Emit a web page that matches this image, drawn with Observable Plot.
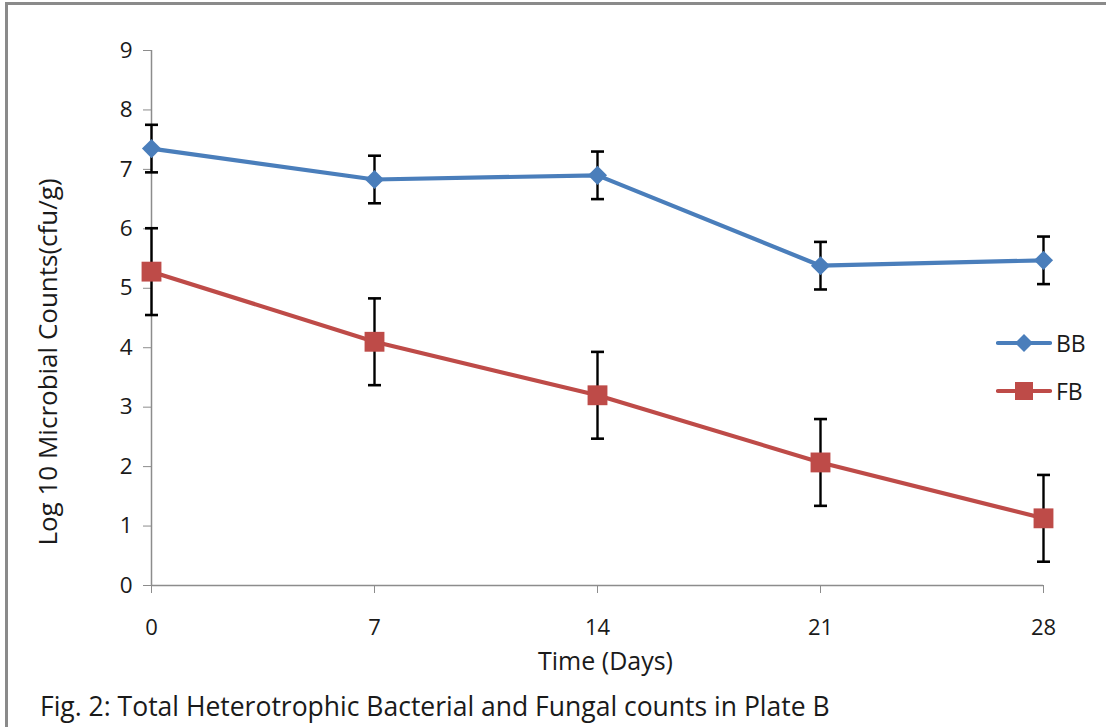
<!DOCTYPE html>
<html>
<head>
<meta charset="utf-8">
<script src="https://cdn.jsdelivr.net/npm/d3@7"></script>
<script src="https://cdn.jsdelivr.net/npm/@observablehq/plot@0.6"></script>
<style>
  html, body { margin: 0; padding: 0; background: #fff; }
  body { font-family: "Open Sans", "DejaVu Sans", sans-serif; color: #000; }
  #wrap { position: relative; width: 1106px; height: 727px; overflow: hidden; background: #fff; }
  #frame { position: absolute; left: 5px; top: 2px; width: 1101px; height: 725px;
           border-top: 3px solid #8a8a8a; border-left: 3px solid #8a8a8a; box-sizing: border-box; pointer-events: none; }
  #chart { position: absolute; left: 0; top: 0; }
  #caption { position: absolute; left: 40px; top: 689px; font-size: 26.5px; line-height: 34px; color: #1a1a1a; white-space: nowrap; }
  #legend { position: absolute; left: 996px; top: 328px; font-size: 23px; color: #1a1a1a; }
  .item { display: flex; align-items: center; height: 30px; margin-bottom: 18px; }
  .item svg { margin-right: 4px; }
</style>
</head>
<body>
<div id="wrap">
  <div id="chart"></div>
  <div id="legend"></div>
  <div id="caption">Fig. 2: Total Heterotrophic Bacterial and Fungal counts in Plate B</div>
  <div id="frame"></div>
</div>
<script>
// ---- data ----
const days = [0, 7, 14, 21, 28];
const seriesNames = ["BB", "FB"];
const bbMean = [7.35, 6.83, 6.90, 5.38, 5.47];
const bbErr  = [0.40, 0.40, 0.40, 0.40, 0.40];
const fbMean = [5.28, 4.10, 3.20, 2.07, 1.13];
const fbErr  = [0.73, 0.73, 0.73, 0.73, 0.73];
const yTicks = [0, 1, 2, 3, 4, 5, 6, 7, 8, 9];
const xTicks = [0, 7, 14, 21, 28];
const xLabel = "Time (Days)";
const yLabel = "Log 10 Microbial Counts(cfu/g)";

const colors = {BB: "#4a7ebb", FB: "#be4b48"};
const sizes = {BB: 8.6, FB: 11.2};

const rows = [];
days.forEach((d, i) => {
  rows.push({series: "BB", day: d, mean: bbMean[i], err: bbErr[i]});
  rows.push({series: "FB", day: d, mean: fbMean[i], err: fbErr[i]});
});
const caps = rows.flatMap(r => [{day: r.day, v: r.mean - r.err}, {day: r.day, v: r.mean + r.err}]);

// horizontal cap symbol
const capSymbol = {
  draw(context, size) {
    const r = Math.sqrt(size / Math.PI);
    context.moveTo(-r, 0);
    context.lineTo(r, 0);
  }
};

const font = '"Open Sans", "DejaVu Sans", sans-serif';

const chart = Plot.plot({
  width: 1106,
  height: 680,
  marginLeft: 151,
  marginRight: 63,
  marginTop: 50,
  marginBottom: 95,
  style: {fontFamily: font, fontSize: "22px", background: "transparent", color: "#1a1a1a", overflow: "visible"},
  x: {domain: [0, 28], label: null},
  y: {domain: [0, 9], label: null},
  marks: [
    Plot.ruleX([0], {stroke: "#8c8c8c", strokeWidth: 1.5}),
    Plot.ruleY([0], {stroke: "#8c8c8c", strokeWidth: 1.5}),
    Plot.axisY({ticks: yTicks, tickSize: 8, tickPadding: 11, stroke: "#8c8c8c", fill: "#1a1a1a", tickFormat: d => d, label: null, fontSize: 22.5}),
    Plot.axisX({ticks: xTicks, tickSize: 8, tickPadding: 26, stroke: "#8c8c8c", fill: "#1a1a1a", tickFormat: d => d, label: null, fontSize: 22}),
    Plot.text([yLabel], {frameAnchor: "left", dx: -103, dy: 44, rotate: -90, textAnchor: "middle", lineAnchor: "middle", fontSize: 26, fill: "#1a1a1a"}),
    Plot.text([xLabel], {frameAnchor: "bottom", dx: 8, dy: 76, textAnchor: "middle", lineAnchor: "middle", fontSize: 25, fill: "#1a1a1a"}),
    // error bars
    Plot.ruleX(rows, {x: "day", y1: d => d.mean - d.err, y2: d => d.mean + d.err, stroke: "#000", strokeWidth: 2.4}),
    Plot.dot(caps, {x: "day", y: "v", symbol: capSymbol, r: 6.5, stroke: "#000", strokeWidth: 2.6, fill: "none"}),
    // lines
    Plot.line(rows, {x: "day", y: "mean", z: "series", stroke: d => colors[d.series], strokeWidth: 4.2}),
    // markers
    Plot.dot(rows.filter(d => d.series === "BB"), {x: "day", y: "mean", symbol: "diamond2", r: sizes.BB, fill: colors.BB, stroke: "none"}),
    Plot.dot(rows.filter(d => d.series === "FB"), {x: "day", y: "mean", symbol: "square", r: sizes.FB, fill: colors.FB, stroke: "none"})
  ]
});
document.getElementById("chart").appendChild(chart);

// legend
const legend = d3.select("#legend");
seriesNames.forEach(name => {
  const item = legend.append("div").attr("class", "item");
  const svg = item.append("svg").attr("width", 56).attr("height", 30);
  svg.append("line").attr("x1", 2).attr("x2", 54).attr("y1", 15).attr("y2", 15)
    .attr("stroke", colors[name]).attr("stroke-width", 4.2).attr("stroke-linecap", "round");
  if (name === "BB") {
    svg.append("path").attr("d", "M28,6 L37,15 L28,24 L19,15 Z").attr("fill", colors[name]);
  } else {
    svg.append("rect").attr("x", 19).attr("y", 6).attr("width", 18).attr("height", 18).attr("fill", colors[name]);
  }
  item.append("span").text(name);
});
</script>
</body>
</html>
